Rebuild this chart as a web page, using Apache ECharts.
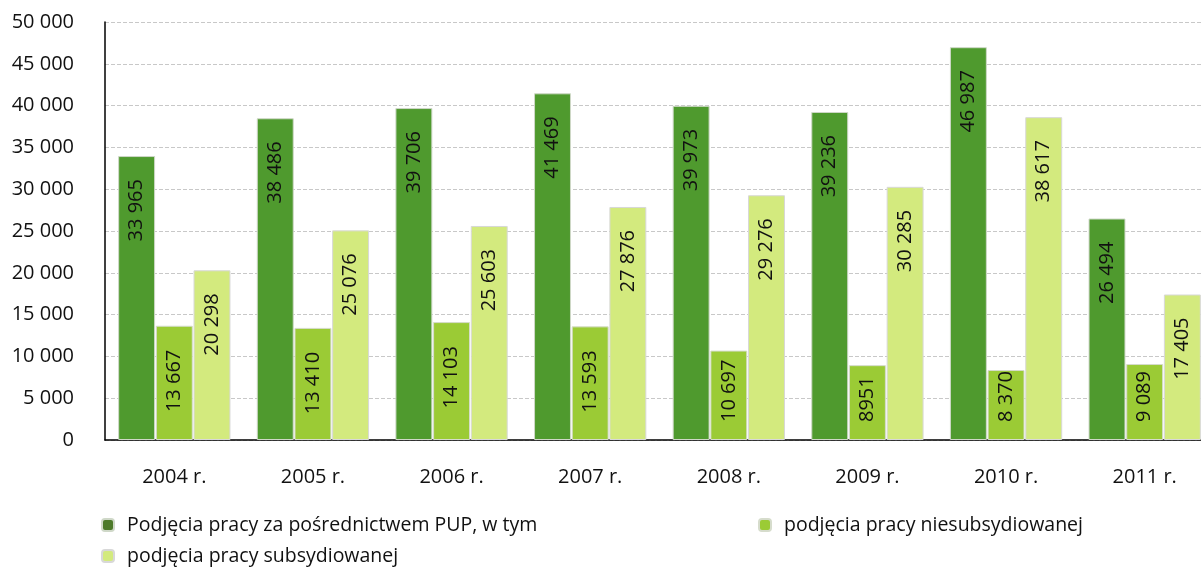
<!DOCTYPE html>
<html>
<head>
<meta charset="utf-8">
<title>Podjęcia pracy</title>
<script src="https://cdn.jsdelivr.net/npm/echarts@6/dist/echarts.min.js"></script>
<style>
  html, body { margin: 0; padding: 0; background: #fff; }
  #chart { width: 1201px; height: 567px; }
</style>
</head>
<body>
<div id="chart"></div>
<script>
// dane
const years = ['2004 r.', '2005 r.', '2006 r.', '2007 r.', '2008 r.', '2009 r.', '2010 r.', '2011 r.'];
const total = [33965, 38486, 39706, 41469, 39973, 39236, 46987, 26494];
const unsubsidised = [13667, 13410, 14103, 13593, 10697, 8951, 8370, 9089];
const subsidised = [20298, 25076, 25603, 27876, 29276, 30285, 38617, 17405];
// etykiety jak w oryginale (2009 bez spacji)
const unsubsidisedLabels = ['13 667', '13 410', '14 103', '13 593', '10 697', '8951', '8 370', '9 089'];
const names = ['Podjęcia pracy za pośrednictwem PUP, w tym', 'podjęcia pracy niesubsydiowanej', 'podjęcia pracy subsydiowanej'];

const font = '"Open Sans", "Noto Sans", sans-serif';
const fmt = v => String(v).replace(/\B(?=(\d{3})+(?!\d))/g, ' ');

const chart = echarts.init(document.getElementById('chart'));

const barLabel = {
    show: true,
    rotate: 90,
    position: 'insideTop',
    distance: 23,
    align: 'right',
    verticalAlign: 'middle',
    fontFamily: font,
    fontSize: 20,
    color: '#111'
};

const legendBase = {
    itemWidth: 12,
    itemHeight: 12,
    itemGap: 0,
    textStyle: { fontFamily: font, fontSize: 19.5, color: '#111', padding: [0, 0, 0, 8] }
};

// krótkie słupki: etykieta przy podstawie, wyższe: przy końcu
const unsubsidisedData = unsubsidised.map((v, i) => ({
    value: v,
    label: v > 12000
        ? { position: 'insideTop', distance: 24, align: 'right' }
        : { position: 'insideBottom', distance: 18, align: 'left' }
}));

const option = {
    animation: false,
    // obszar wykresu wychodzi poza prawą krawędź, jak w oryginale
    grid: { left: 105, width: 1109, top: 22, height: 418, outerBoundsMode: 'none', containLabel: false },
    legend: [
        Object.assign({ left: 96, top: 510, data: [names[0]], itemStyle: { color: '#4d7a2a' } }, legendBase),
        Object.assign({ left: 753, top: 510, data: [names[1]] }, legendBase),
        Object.assign({ left: 96, top: 541, data: [names[2]] }, legendBase)
    ],
    xAxis: {
        type: 'category',
        data: years,
        axisLine: { lineStyle: { color: '#000', width: 1.5 } },
        axisTick: { show: false },
        axisLabel: { fontFamily: font, fontSize: 20, color: '#111', margin: 27 }
    },
    yAxis: {
        type: 'value',
        min: 0,
        max: 50000,
        interval: 5000,
        axisLine: { show: true, lineStyle: { color: '#000', width: 1.5 } },
        axisTick: { show: false },
        splitLine: { lineStyle: { color: '#c8c8c8', type: 'dashed' } },
        axisLabel: { fontFamily: font, fontSize: 20, color: '#111', margin: 31, formatter: fmt }
    },
    series: [
        {
            name: names[0],
            type: 'bar',
            data: total,
            barGap: '2%',
            barCategoryGap: '19%',
            itemStyle: { color: '#4f9a2e', borderColor: '#cfd8c8', borderWidth: 1 },
            label: Object.assign({}, barLabel, { formatter: p => fmt(p.value) })
        },
        {
            name: names[1],
            type: 'bar',
            data: unsubsidisedData,
            barGap: '2%',
            barCategoryGap: '19%',
            itemStyle: { color: '#9bcb35', borderColor: '#d6dccc', borderWidth: 1 },
            label: Object.assign({}, barLabel, {
                formatter: p => unsubsidisedLabels[p.dataIndex]
            })
        },
        {
            name: names[2],
            type: 'bar',
            data: subsidised,
            barGap: '2%',
            barCategoryGap: '19%',
            itemStyle: { color: '#d3ea7e', borderColor: '#d8d8d8', borderWidth: 1 },
            label: Object.assign({}, barLabel, { formatter: p => fmt(p.value) })
        }
    ]
};

chart.setOption(option);
</script>
</body>
</html>
